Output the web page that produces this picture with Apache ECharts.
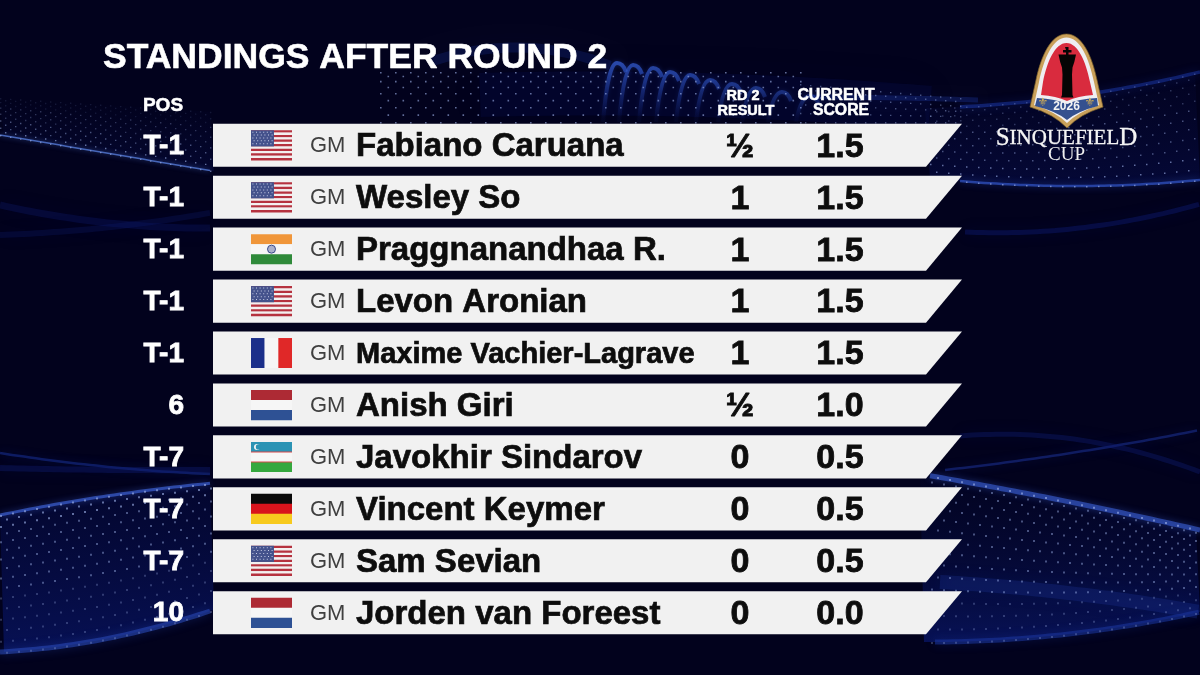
<!DOCTYPE html>
<html><head><meta charset="utf-8">
<style>html,body{margin:0;padding:0;background:#02021e}#c{width:1200px;height:675px}</style>
<script src="https://cdn.jsdelivr.net/npm/echarts@6/dist/echarts.min.js"></script>
</head><body><div id="c"></div>
<script>
// ---------- data ----------
const titleText = 'STANDINGS AFTER ROUND 2';
const headerPos = 'POS';
const headerResult = ['RD 2', 'RESULT'];
const headerScore = ['CURRENT', 'SCORE'];
const positions = ['T-1','T-1','T-1','T-1','T-1','6','T-7','T-7','T-7','10'];
const flags = ['us','us','in','us','fr','nl','uz','de','us','nl'];
const titles = ['GM','GM','GM','GM','GM','GM','GM','GM','GM','GM'];
const names = ['Fabiano Caruana','Wesley So','Praggnanandhaa R.','Levon Aronian','Maxime Vachier-Lagrave','Anish Giri','Javokhir Sindarov','Vincent Keymer','Sam Sevian','Jorden van Foreest'];
const results = ['½','1','1','1','1','½','0','0','0','0'];
const scores = ['1.5','1.5','1.5','1.5','1.5','1.0','0.5','0.5','0.5','0.0'];

// ---------- style ----------
const SANS = '"Liberation Sans", Arial, sans-serif';
const SERIF = '"Liberation Serif", serif';
const flagStripes = {
  in: ['#f0963a','#f6f6f6','#2f8a3a'],
  nl: ['#ad2a34','#f6f6f6','#2e5194'],
  de: ['#0a0a0a','#d8141c','#f7ca1e'],
  uz: ['#2b93b4','#f6f6f6','#35a83e']
};

// ---------- decorative background ----------
function lerpCurve(pts, x){
  let y = 0;
  for (let i = 0; i < pts.length; i++) {
    let l = 1;
    for (let j = 0; j < pts.length; j++) if (j !== i) l *= (x - pts[j][0]) / (pts[i][0] - pts[j][0]);
    y += l * pts[i][1];
  }
  return y;
}
function curvePath(pts, x0, x1){
  let d = '';
  for (let x = x0; x <= x1; x += 6) d += (d ? 'L' : 'M') + x + ' ' + lerpCurve(pts, x).toFixed(1);
  return d;
}
function surfaceFill(top, bot, x0, x1, c0, c1, y0, y1){
  let d = curvePath(top, x0, x1);
  for (let x = x1; x >= x0; x -= 6) d += 'L' + x + ' ' + lerpCurve(bot, x).toFixed(1);
  return { type: 'path', silent: true, shape: { pathData: d + 'Z' },
    style: { fill: { type: 'linear', x: 0, y: y0, x2: 0, y2: y1, global: true, colorStops: [{offset:0,color:c0},{offset:1,color:c1}] } } };
}
function dotSurface(top, bot, x0, x1, dx, rows, alphaFn, size){
  const buckets = [[],[],[],[]];
  for (let j = 0; j <= rows; j++) {
    const v = j / rows;
    for (let x = x0 + (j % 2) * dx / 2; x <= x1; x += dx) {
      const vv = Math.pow(v, 1.25);
      const y = lerpCurve(top, x) + vv * (lerpCurve(bot, x) - lerpCurve(top, x));
      const a = alphaFn(x, vv);
      const b = Math.min(3, Math.floor(a * 4));
      if (a > 0.05) buckets[b].push('M' + x.toFixed(1) + ' ' + y.toFixed(1) + 'h' + size + 'v' + size + 'h-' + size + 'z');
    }
  }
  return buckets.map((b, i) => b.length ? {
    type: 'path', silent: true, shape: { pathData: b.join('') },
    style: { fill: 'rgba(160,180,235,' + (0.12 + i * 0.16) + ')' }
  } : null).filter(Boolean);
}
function glow(pts, x0, x1, color, w, blur){
  return { type: 'path', silent: true, shape: { pathData: curvePath(pts, x0, x1) },
    style: { fill: null, stroke: color, lineWidth: w, shadowBlur: blur, shadowColor: color, lineCap: 'butt' } };
}
const leftUpTop = [[0,98],[213,112]], leftUpBot = [[0,135],[213,171]];
const rightUpTop = [[930,108],[1060,98],[1200,72]], rightUpBot = [[930,178],[1080,186],[1200,180]];
const leftLowTop = [[0,515],[100,497],[213,483]], leftLowBot = [[0,652],[110,638],[213,610]];
const rightLowTop = [[920,474],[1060,500],[1200,530]], rightLowBot = [[920,642],[1060,635],[1200,612]];
const ripples = [[613,617,63],[629,633,65],[647,653,68],[665,670,72],[684,690,75],[704,710,80],[724,732,84],[746,756,88],[770,782,92],[796,810,96]];
const bg = [
  glow([[480,95],[700,95],[930,108]], 480, 930, 'rgba(8,18,90,.22)', 44, 40),
  surfaceFill(leftUpTop, leftUpBot, 0, 214, 'rgba(8,16,80,0)', 'rgba(8,16,80,.35)', 100, 170),
  surfaceFill(rightUpTop, rightUpBot, 925, 1200, 'rgba(6,12,70,.15)', 'rgba(8,16,85,.45)', 80, 185),
  surfaceFill(leftLowTop, leftLowBot, 0, 214, 'rgba(6,14,80,.35)', 'rgba(10,26,120,.6)', 485, 650),
  surfaceFill(rightLowTop, rightLowBot, 920, 1200, 'rgba(4,8,50,.25)', 'rgba(12,30,130,.55)', 480, 640),
  glow([[0,205],[100,222],[215,228]], 0, 215, 'rgba(14,28,110,.32)', 7, 18),
  glow([[0,235],[120,226],[215,212]], 0, 215, 'rgba(14,28,110,.28)', 6, 16),
  glow([[0,453],[90,465],[210,474]], 0, 215, 'rgba(26,50,150,.55)', 2.5, 9),
  glow([[0,468],[120,470],[210,470]], 0, 215, 'rgba(14,28,110,.4)', 6, 14),
  glow([[945,470],[1090,450],[1200,430]], 945, 1200, 'rgba(30,54,160,.5)', 2.5, 10),
  glow([[960,436],[1080,440],[1200,472]], 960, 1200, 'rgba(14,28,110,.4)', 5, 14),
  glow([[965,232],[1080,228],[1200,204]], 965, 1200, 'rgba(14,28,120,.4)', 5, 14),
  glow(leftUpBot, 0, 215, 'rgba(90,130,225,.75)', 1.5, 5),
  glow(rightUpBot, 960, 1200, 'rgba(50,85,200,.7)', 2.5, 7),
  glow(rightUpTop, 960, 1200, 'rgba(24,48,150,.6)', 3.5, 8),
  glow(leftLowTop, 0, 215, 'rgba(60,95,210,.7)', 3, 6),
  glow(leftLowBot, 0, 215, 'rgba(40,72,180,.6)', 5, 10),
  glow(rightLowTop, 930, 1200, 'rgba(55,90,205,.65)', 5, 7),
  glow(rightLowBot, 935, 1200, 'rgba(28,55,160,.55)', 5, 10),
  glow([[940,582],[1060,592],[1200,612]], 940, 1200, 'rgba(26,50,150,.3)', 14, 16),
  ...ripples.map((r, i) => ({
    type: 'path', silent: true,
    shape: { pathData: 'M' + (r[1] - 14) + ' 122Q' + (r[1] - 9) + ' ' + r[2] + ' ' + r[1] + ' ' + r[2] + 'Q' + (r[1] + 6) + ' ' + r[2] + ' ' + (r[1] + 9) + ' ' + (r[2] + 9) },
    style: { fill: null, lineWidth: 4, shadowBlur: 4, shadowColor: 'rgba(40,75,190,.5)',
      stroke: { type: 'linear', x: 0, y: r[2], x2: 0, y2: 118, global: true,
        colorStops: [{offset:0,color:'rgba(50,90,205,' + (0.75 - i * 0.04) + ')'},{offset:1,color:'rgba(30,60,170,.05)'}] } }
  })),
  glow([[810,97],[900,98],[980,100]], 810, 980, 'rgba(30,60,170,.3)', 5, 10),
  glow([[430,62],[500,48],[600,62]], 430, 610, 'rgba(22,46,150,.25)', 10, 16),
  ...dotSurface(leftUpTop, leftUpBot, 0, 214, 10, 12, (x, v) => 0.1 + v * 0.75, 1.4),
  ...dotSurface(rightUpTop, rightUpBot, 930, 1200, 12, 12, (x, v) => 0.35 + v * 0.55, 1.5),
  ...dotSurface(leftLowTop, leftLowBot, 0, 214, 12, 15, (x, v) => 0.8 - v * 0.55, 2),
  ...dotSurface(rightLowTop, rightLowBot, 925, 1200, 12, 15, (x, v) => 0.75 - v * 0.35, 2),
  ...dotSurface([[380,72],[600,72],[800,72]], [[380,122],[600,122],[800,122]], 380, 800, 15, 8, (x, v) => 0.8, 1.6),
  ...dotSurface([[800,84],[960,98]], [[800,122],[960,122]], 800, 960, 10, 5, (x, v) => 0.5, 1.4)
];

// ---------- logo + header text ----------
function txt(text, x, y, font, fill, align, extra){
  return { type: 'text', silent: true,
    style: Object.assign({ text, x, y, font, fill, align: align || 'center', verticalAlign: 'middle' }, extra || {}) };
}
const shieldOuter = 'M1066.5 34C1082 34 1092 56 1097 80L1103 107Q1080 114 1067 128Q1054 114 1030 107L1036 80C1041 56 1051 34 1066.5 34Z';
const shieldWhite = 'M1066.5 37.5C1080 37.5 1089 58 1094 82L1099 105Q1078 112 1067 123Q1056 112 1034 105L1039 82C1044 58 1053 37.5 1066.5 37.5Z';
const shieldRed = 'M1066.5 43C1078 43 1086 62 1090 82L1093 95Q1078 96 1067 101Q1056 96 1041 95L1043 82C1047 62 1055 43 1066.5 43Z';
const shieldBlue = 'M1037 98Q1056 99 1067 104Q1078 99 1097 98L1098 106Q1078 111 1067 120Q1056 111 1035 106Z';
const kingPath = 'M1065 47h3.5v3h3v2.5h-3v2h7.5q-1.5 8 -3.5 13l-0.5 7l0.5 20.5l1 2.5h-12.500l1 -2.500l0.5 -20.5l-0.5 -7q-2 -5 -3.5 -13h7.500v-2h-3v-2.5h3z';
const logo = [
  { type: 'path', silent: true, shape: { pathData: shieldOuter }, style: { fill: '#c9a05a', stroke: '#7e6128', lineWidth: 0.7 } },
  { type: 'path', silent: true, shape: { pathData: shieldWhite }, style: { fill: '#efeef2' } },
  { type: 'path', silent: true, shape: { pathData: shieldRed }, style: { fill: '#d92b3e' } },
  { type: 'path', silent: true, shape: { pathData: shieldBlue }, style: { fill: '#34508f' } },
  { type: 'path', silent: true, shape: { pathData: kingPath }, style: { fill: '#050505' } },
  txt('2026', 1066.5, 107, 'bold 12px ' + SANS, '#f4f4f4'),
  txt('⚜', 1043, 103, '12px "DejaVu Sans"', '#d2ad55'),
  txt('⚜', 1090, 103, '12px "DejaVu Sans"', '#d2ad55'),
  { type: 'text', silent: true, style: {
      x: 1066.5, y: 138, align: 'center', verticalAlign: 'middle', stroke: '#f4f4f4', lineWidth: 0.3,
      text: '{a|S}{b|INQUEFIEL}{a|D}',
      rich: { a: { font: '25px ' + SERIF, fill: '#f4f4f4' }, b: { font: '21px ' + SERIF, fill: '#f4f4f4' } } } },
  txt('CUP', 1066.5, 155.5, '19px ' + SERIF, '#f0f0f0')
];
const headerStroke = { stroke: '#fff', lineWidth: 0.5 };
const headers = [
  txt(headerPos, 163, 105.5, 'bold 19px ' + SANS, '#fff', 'center', headerStroke),
  txt(headerResult[0], 743, 96, 'bold 14.500px ' + SANS, '#fff', 'center', headerStroke),
  txt(headerResult[1], 746, 111, 'bold 14.500px ' + SANS, '#fff', 'center', headerStroke),
  txt(headerScore[0], 836, 96, 'bold 15.800px ' + SANS, '#fff', 'center', headerStroke),
  txt(headerScore[1], 841, 111, 'bold 15.800px ' + SANS, '#fff', 'center', headerStroke)
];

// ---------- flags ----------
function flagChildren(code, x, y){
  const W = 41, H = 30, out = [];
  const rect = (rx, ry, rw, rh, fill) => out.push({ type: 'rect', shape: { x: rx, y: ry, width: rw, height: rh }, style: { fill } });
  if (code === 'us') {
    const h = H / 13;
    for (let i = 0; i < 13; i++) rect(x, y + i * h, W, h + 0.2, i % 2 ? '#f3f0f0' : '#b5323f');
    rect(x, y, W * 0.56, h * 7, '#44528c');
    for (let r = 0; r < 5; r++) for (let c = 0; c < 6; c++)
      rect(x + 1.4 + c * 3.6 + (r % 2) * 1.2, y + 1.4 + r * 2.9, 1, 1, '#c8cde6');
  } else if (code === 'fr') {
    rect(x, y, W / 3, H, '#1b2f8a');
    rect(x + W / 3, y, W / 3, H, '#f6f6f6');
    rect(x + 2 * W / 3, y, W / 3, H, '#e02828');
  } else {
    const s = flagStripes[code];
    s.forEach((c, i) => rect(x, y + i * H / 3, W, H / 3 + 0.2, c));
    if (code === 'in') {
      out.push({ type: 'circle', shape: { cx: x + W / 2, cy: y + H / 2, r: 4 }, style: { fill: '#aab0cc', stroke: '#3b4a8c', lineWidth: 1 } });
    }
    if (code === 'uz') {
      rect(x, y + H / 3 - 0.5, W, 1, '#d84a4a');
      rect(x, y + 2 * H / 3 - 0.5, W, 1, '#d84a4a');
      out.push({ type: 'circle', shape: { cx: x + 6, cy: y + 5, r: 3 }, style: { fill: '#f4f4f4' } });
      out.push({ type: 'circle', shape: { cx: x + 7.4, cy: y + 5, r: 2.6 }, style: { fill: '#2b93b4' } });
    }
  }
  return out;
}

// ---------- rows (drawn through the axes) ----------
const rowIndex = names.map((_, i) => i);
function renderRow(params, api){
  const i = api.value(0);
  const c = api.coord([0, i]);
  const cy = c[1];
  const h = api.size([0, 1])[1] - 8.8;
  const X = v => api.coord([v, i])[0];
  const top = cy - h / 2, bot = cy + h / 2;
  const dark = '#0d0d0d';
  const t = (text, x, font, fill, align, sw, dy) => ({ type: 'text', silent: true,
    style: { text, x, y: cy + dy, font, fill, align: align || 'center', verticalAlign: 'middle', stroke: sw ? fill : null, lineWidth: sw || 0 } });
  const nameSize = names[i].length > 20 ? 29 : 33;
  const kids = [
    { type: 'polygon', shape: { points: [[X(213), top], [X(962), top], [X(926), bot], [X(213), bot]] }, style: { fill: '#f1f1f1' } },
    ...flagChildren(flags[i], X(251), cy - 15),
    t(titles[i], X(310), '22px ' + SANS, '#3f3f3f', 'left', 0, 1),
    t(names[i], X(356), 'bold ' + nameSize + 'px ' + SANS, dark, 'left', 0.7, 2),
    t(results[i], X(740), 'bold 34px ' + SANS, dark, 'center', 0.8, 2),
    t(scores[i], X(840), 'bold 34px ' + SANS, dark, 'center', 0.8, 2),
    { type: 'text', silent: true, style: { text: positions[i], x: X(184), y: cy + 1, font: 'bold 28px ' + SANS, fill: '#fff', align: 'right', verticalAlign: 'middle', stroke: '#fff', lineWidth: 0.8 } }
  ];
  return { type: 'group', children: kids };
}
const decor = (elements, z) => ({ type: 'custom', coordinateSystem: 'none', silent: true, z,
  data: [[0]], renderItem: () => ({ type: 'group', children: elements }) });

const chart = echarts.init(document.getElementById('c'), null, { renderer: 'canvas' });
chart.setOption({
  animation: false,
  backgroundColor: '#02021d',
  title: { text: titleText, left: 103, top: 40, padding: 0, z: 8,
    textStyle: { color: '#fff', fontFamily: SANS, fontWeight: 'bold', fontSize: 35.5, textBorderColor: '#fff', textBorderWidth: 0.6 } },
  grid: { left: 0, right: 0, top: 119.3, height: 519.4 },
  xAxis: { type: 'value', min: 0, max: 1200, show: false },
  yAxis: { type: 'category', inverse: true, data: names, show: false },
  tooltip: { show: false },
  series: [
    decor(bg, 1),
    { type: 'custom', coordinateSystem: 'cartesian2d', silent: true, z: 5,
      encode: { x: 1, y: 0 },
      data: rowIndex.map(i => [i, 0]),
      renderItem: renderRow },
    decor([...logo, ...headers], 10)
  ]
});
</script></body></html>
